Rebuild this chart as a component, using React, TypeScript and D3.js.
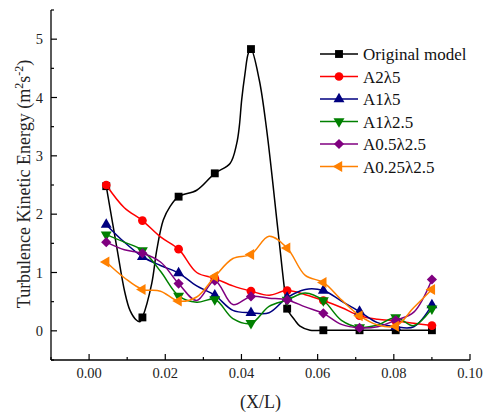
import React from 'react';
import * as d3 from 'd3';

// marker positions (X/L)
const xValues = [0.0045, 0.014, 0.0235, 0.033, 0.0425, 0.052, 0.0615, 0.071, 0.0805, 0.09];

// marker values
const originalModel = [2.48, 0.23, 2.3, 2.7, 4.83, 0.38, 0.01, 0.01, 0.01, 0.01];
const a2l5 = [2.5, 1.89, 1.4, 0.9, 0.68, 0.69, 0.52, 0.26, 0.17, 0.09];
const a1l5 = [1.82, 1.27, 0.99, 0.61, 0.31, 0.57, 0.69, 0.33, 0.07, 0.44];
const a1l25 = [1.65, 1.38, 0.6, 0.54, 0.13, 0.53, 0.52, 0.06, 0.23, 0.38];
const a05l25 = [1.52, 1.33, 0.81, 0.86, 0.59, 0.53, 0.3, 0.05, 0.18, 0.88];
const a025l25 = [1.18, 0.71, 0.51, 0.93, 1.31, 1.42, 0.83, 0.26, 0.08, 0.71];

// line (profile) data, denser than the markers
const lineX = [
  0.0045, 0.00925, 0.014, 0.01875, 0.0235, 0.02825, 0.033, 0.03775, 0.0425, 0.04725, 0.052, 0.05675, 0.0615,
  0.06625, 0.071, 0.07575, 0.0805, 0.08525, 0.09,
];
const a2l5Line = [2.5, 2.11, 1.89, 1.61, 1.4, 1.0, 0.9, 0.77, 0.68, 0.61, 0.69, 0.62, 0.52, 0.4, 0.26, 0.2, 0.17, 0.13, 0.09];
const a1l5Line = [1.82, 1.52, 1.27, 1.12, 0.99, 0.77, 0.61, 0.35, 0.31, 0.31, 0.57, 0.71, 0.69, 0.51, 0.33, 0.14, 0.07, 0.07, 0.44];
const a1l25Line = [1.65, 1.52, 1.38, 1.02, 0.6, 0.49, 0.54, 0.21, 0.13, 0.42, 0.53, 0.65, 0.52, 0.18, 0.06, 0.1, 0.23, 0.09, 0.38];
const a05l25Line = [1.52, 1.39, 1.33, 1.18, 0.81, 0.52, 0.86, 0.45, 0.59, 0.56, 0.53, 0.41, 0.3, 0.11, 0.05, 0.07, 0.18, 0.32, 0.88];
const a025l25Line = [1.18, 0.91, 0.71, 0.68, 0.51, 0.58, 0.93, 1.24, 1.31, 1.62, 1.42, 0.95, 0.83, 0.53, 0.26, 0.1, 0.08, 0.4, 0.71];

const originalLineX = [
  0.0045, 0.00725, 0.00935, 0.01074, 0.01232, 0.01337, 0.014, 0.01644, 0.01775, 0.01948, 0.02124, 0.0235, 0.02825,
  0.033, 0.037, 0.03875, 0.03943, 0.04006, 0.04093, 0.0418, 0.0425, 0.04468, 0.04663, 0.04959, 0.05143, 0.052,
  0.05406, 0.05537, 0.058, 0.0615, 0.071, 0.0805, 0.09,
];
const originalLineY = [
  2.48, 1.44, 0.67, 0.35, 0.19, 0.155, 0.23, 0.81, 1.38, 1.9, 2.13, 2.3, 2.41, 2.7, 2.87, 3.21, 3.5, 3.96, 4.41,
  4.76, 4.83, 4.3, 3.44, 1.72, 0.64, 0.38, 0.18, 0.08, 0.01, 0.01, 0.01, 0.01, 0.01,
];

const seriesNames = ['Original model', 'A2λ5', 'A1λ5', 'A1λ2.5', 'A0.5λ2.5', 'A0.25λ2.5'];
const seriesValues = [originalModel, a2l5, a1l5, a1l25, a05l25, a025l25];
const seriesLineX = [originalLineX, lineX, lineX, lineX, lineX, lineX];
const seriesLineY = [originalLineY, a2l5Line, a1l5Line, a1l25Line, a05l25Line, a025l25Line];
const seriesColors = ['#000000', '#ff0000', '#000080', '#008000', '#800080', '#ff8000'];
const seriesMarkers = ['square', 'circle', 'triangle', 'triangleDown', 'diamond', 'triangleLeft'];

const xTickValues = [0, 0.02, 0.04, 0.06, 0.08, 0.1];
const xMinorTicks = [-0.01, 0.01, 0.03, 0.05, 0.07, 0.09];
const yTickValues = [0, 1, 2, 3, 4, 5];
const yMinorTicks = [-0.5, 0.5, 1.5, 2.5, 3.5, 4.5, 5.5];

const FONT = '"Liberation Serif", "Times New Roman", Times, serif';

function markerPath(kind: string): { d: string; rot: number } {
  switch (kind) {
    case 'square':
      return { d: d3.symbol(d3.symbolSquare, 62)() as string, rot: 0 };
    case 'circle':
      return { d: d3.symbol(d3.symbolCircle, 60)() as string, rot: 0 };
    case 'triangle':
      return { d: d3.symbol(d3.symbolTriangle, 52)() as string, rot: 0 };
    case 'triangleDown':
      return { d: d3.symbol(d3.symbolTriangle, 52)() as string, rot: 180 };
    case 'triangleLeft':
      return { d: d3.symbol(d3.symbolTriangle, 52)() as string, rot: -90 };
    case 'diamond':
      return { d: d3.symbol(d3.symbolSquare, 52)() as string, rot: 45 };
    default:
      return { d: d3.symbol(d3.symbolCircle, 60)() as string, rot: 0 };
  }
}

export default function App() {
  const width = 485;
  const height = 412;
  const x = d3.scaleLinear().domain([-0.01, 0.1]).range([51, 470]);
  const y = d3.scaleLinear().domain([-0.5, 5.5]).range([360, 10]);

  const line = d3
    .line<[number, number]>()
    .x((d) => x(d[0]))
    .y((d) => y(d[1]))
    .curve(d3.curveCatmullRom.alpha(0.5));

  const axisColor = '#000';
  const legendX0 = 320;
  const legendX1 = 358;
  const legendY0 = 54;
  const legendDy = 22.5;

  return (
    <svg
      width={width}
      height={height}
      style={{ position: 'absolute', left: 0, top: 0, background: '#fff' }}
      fontFamily={FONT}
    >
      <rect x={0} y={0} width={width} height={height} fill="#fff" />
      {seriesValues.map((vals, i) => {
        const linePts = seriesLineX[i].map((xv, j) => [xv, seriesLineY[i][j]] as [number, number]);
        const pts = xValues.map((xv, j) => [xv, vals[j]] as [number, number]);
        const m = markerPath(seriesMarkers[i]);
        return (
          <g key={seriesNames[i]}>
            <path d={line(linePts) as string} fill="none" stroke={seriesColors[i]} strokeWidth={1.5} />
            {pts.map((p, j) => (
              <path
                key={j}
                d={m.d}
                fill={seriesColors[i]}
                transform={`translate(${x(p[0])},${y(p[1])}) rotate(${m.rot})`}
              />
            ))}
          </g>
        );
      })}
      <line x1={51} x2={51} y1={y(5.5)} y2={y(-0.5)} stroke={axisColor} strokeWidth={1.3} />
      <line x1={51} x2={470} y1={360} y2={360} stroke={axisColor} strokeWidth={1.3} />
      {xTickValues.map((t) => (
        <g key={'xt' + t}>
          <line x1={x(t)} x2={x(t)} y1={360} y2={354} stroke={axisColor} strokeWidth={1.2} />
          <text x={x(t)} y={378} textAnchor="middle" fontSize={14.5} fill="#222">
            {d3.format('.2f')(t)}
          </text>
        </g>
      ))}
      {xMinorTicks.map((t) => (
        <line key={'xm' + t} x1={x(t)} x2={x(t)} y1={360} y2={357} stroke={axisColor} strokeWidth={1.2} />
      ))}
      {yTickValues.map((t) => (
        <g key={'yt' + t}>
          <line x1={51} x2={57} y1={y(t)} y2={y(t)} stroke={axisColor} strokeWidth={1.2} />
          <text x={43} y={y(t) + 5} textAnchor="end" fontSize={14.5} fill="#222">
            {t}
          </text>
        </g>
      ))}
      {yMinorTicks.map((t) => (
        <line key={'ym' + t} x1={51} x2={54} y1={y(t)} y2={y(t)} stroke={axisColor} strokeWidth={1.2} />
      ))}
      <text x={260.5} y={408} textAnchor="middle" fontSize={18} fill="#222">
        (X/L)
      </text>
      <text transform="translate(30,184) rotate(-90)" textAnchor="middle" fontSize={18} fill="#222">
        Turbulence Kinetic Energy (m
        <tspan fontSize={12} dy={-7}>2</tspan>
        <tspan dy={7}>s</tspan>
        <tspan fontSize={12} dy={-7}>-2</tspan>
        <tspan dy={7}>)</tspan>
      </text>
      {seriesNames.map((name, i) => {
        const ly = legendY0 + i * legendDy;
        const m = markerPath(seriesMarkers[i]);
        return (
          <g key={'lg' + name}>
            <line x1={legendX0} x2={legendX1} y1={ly} y2={ly} stroke={seriesColors[i]} strokeWidth={1.5} />
            <path
              d={m.d}
              fill={seriesColors[i]}
              transform={`translate(${(legendX0 + legendX1) / 2},${ly}) rotate(${m.rot})`}
            />
            <text x={363} y={ly + 6} fontSize={17} fill="#111">
              {name}
            </text>
          </g>
        );
      })}
    </svg>
  );
}
